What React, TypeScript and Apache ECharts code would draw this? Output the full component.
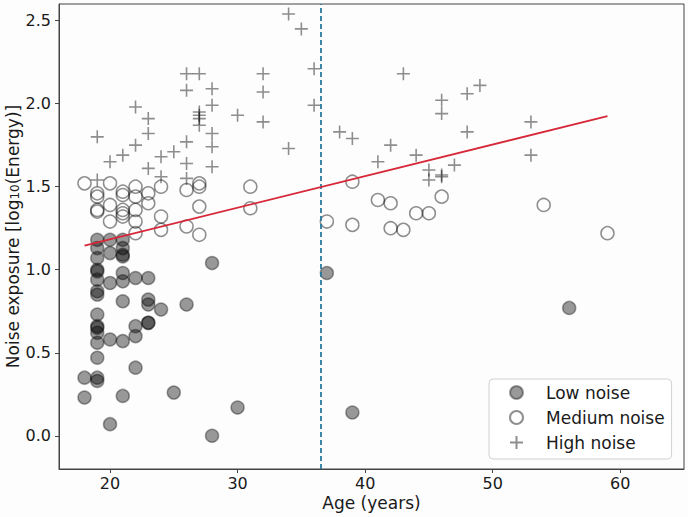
import React, { useEffect, useRef } from 'react';
import * as echarts from 'echarts';

// [age (years), noise exposure log10(Energy)]
const lowNoise: [number, number][] = [
  [18, 0.35], [18, 0.23],
  [19, 1.18], [19, 1.13], [19, 1.07], [19, 1.0], [19, 0.99], [19, 0.94], [19, 0.87], [19, 0.85],
  [19, 0.73], [19, 0.66], [19, 0.65], [19, 0.62], [19, 0.56], [19, 0.47], [19, 0.35], [19, 0.33],
  [20, 1.18], [20, 1.1], [20, 0.92], [20, 0.58], [20, 0.07],
  [21, 1.18], [21, 1.13], [21, 1.09], [21, 1.08], [21, 0.98], [21, 0.93], [21, 0.81], [21, 0.57], [21, 0.24],
  [22, 0.95], [22, 0.66], [22, 0.6], [22, 0.41],
  [23, 0.95], [23, 0.82], [23, 0.79], [23, 0.68], [23, 0.68],
  [24, 0.76], [25, 0.26], [26, 0.79], [28, 1.04], [28, 0.0], [30, 0.17],
  [37, 0.98], [39, 0.14], [56, 0.77],
];

const mediumNoise: [number, number][] = [
  [18, 1.52],
  [19, 1.46], [19, 1.44], [19, 1.36], [19, 1.35],
  [20, 1.52], [20, 1.39], [20, 1.29],
  [21, 1.47], [21, 1.45], [21, 1.36], [21, 1.34], [21, 1.32],
  [22, 1.5], [22, 1.44], [22, 1.36], [22, 1.29], [22, 1.22],
  [23, 1.46], [23, 1.4],
  [24, 1.5], [24, 1.32], [24, 1.24],
  [26, 1.48], [26, 1.26],
  [27, 1.52], [27, 1.5], [27, 1.38], [27, 1.21],
  [31, 1.5], [31, 1.37], [37, 1.29], [39, 1.53], [39, 1.27],
  [41, 1.42], [42, 1.4], [42, 1.25], [43, 1.24], [44, 1.34], [45, 1.34], [46, 1.44],
  [54, 1.39], [59, 1.22],
];

const highNoise: [number, number][] = [
  [19, 1.8], [19, 1.54], [20, 1.65], [21, 1.69],
  [22, 1.98], [22, 1.75],
  [23, 1.91], [23, 1.82], [23, 1.61],
  [24, 1.68], [24, 1.56], [25, 1.71],
  [26, 2.18], [26, 2.08], [26, 1.77], [26, 1.64], [26, 1.55],
  [27, 2.18], [27, 1.95], [27, 1.93], [27, 1.91], [27, 1.87],
  [28, 2.09], [28, 1.99], [28, 1.82], [28, 1.74], [28, 1.62],
  [30, 1.93], [32, 2.18], [32, 2.07], [32, 1.89],
  [34, 2.54], [34, 1.73], [35, 2.45], [36, 2.21], [36, 1.99],
  [38, 1.83], [39, 1.79], [41, 1.65], [42, 1.75], [43, 2.18], [44, 1.69],
  [45, 1.6], [45, 1.54], [46, 2.02], [46, 1.94], [46, 1.57], [46, 1.56],
  [47, 1.63], [48, 2.06], [48, 1.83], [49, 2.11], [53, 1.89], [53, 1.69],
];

const fitLine: [number, number][] = [[18, 1.145], [59, 1.925]];
const cutoffAge = 36.5;

const xTicks = [20, 30, 40, 50, 60];
const yTicks = [0, 0.5, 1.0, 1.5, 2.0, 2.5];
const seriesNames = ['Low noise', 'Medium noise', 'High noise'];

const FONT = 'DejaVu Sans';
const PLUS = 'path://M0,6.5H13M6.5,0V13';

export default function App() {
  const ref = useRef<HTMLDivElement>(null);
  useEffect(() => {
    document.body.style.margin = '0';
    const chart = echarts.init(ref.current!, null, { renderer: 'svg' });
    const axisCommon = {
      type: 'value',
      splitLine: { show: false },
      axisLine: { show: true, onZero: false, lineStyle: { color: '#444', width: 1 } },
    };
    chart.setOption({
      animation: false,
      backgroundColor: '#fdfdfd',
      textStyle: { fontFamily: FONT },
      grid: {
        left: 59, right: 4, top: 4, bottom: 48,
        containLabel: false, outerBoundsMode: 'none',
        show: true, borderColor: '#444', borderWidth: 1, backgroundColor: 'transparent',
      },
      xAxis: {
        ...axisCommon,
        min: 16, max: 65,
        axisTick: { show: true, length: 4, customValues: xTicks, lineStyle: { color: '#444' } },
        axisLabel: { customValues: xTicks, fontSize: 16, color: '#1a1a1a', margin: 6, fontFamily: FONT },
        name: 'Age (years)', nameLocation: 'middle', nameGap: 25, nameMoveOverlap: false,
        nameTextStyle: { fontSize: 17, color: '#1a1a1a', fontFamily: FONT },
      },
      yAxis: {
        ...axisCommon,
        min: -0.2, max: 2.6,
        axisTick: { show: true, length: 4, customValues: yTicks, lineStyle: { color: '#444' } },
        axisLabel: {
          customValues: yTicks, fontSize: 16, color: '#1a1a1a', margin: 8, fontFamily: FONT,
          formatter: (v: number) => v.toFixed(1),
        },
        name: '{a|Noise exposure [log}{s|10}{a|(Energy)]}',
        nameLocation: 'middle', nameGap: 34, nameMoveOverlap: false,
        nameTextStyle: {
          fontSize: 17, color: '#1a1a1a', fontFamily: FONT,
          rich: {
            a: { fontSize: 17, color: '#1a1a1a', fontFamily: FONT, padding: [0, 0, 4, 0] },
            s: { fontSize: 12, color: '#1a1a1a', fontFamily: FONT },
          },
        },
      },
      legend: {
        data: seriesNames,
        orient: 'vertical',
        left: 489, top: 379,
        itemWidth: 13, itemHeight: 13, itemGap: 8,
        padding: [5, 7, 8, 20],
        borderColor: '#d0d0d0', borderWidth: 1, borderRadius: 4,
        backgroundColor: 'rgba(255,255,255,0.8)',
        textStyle: { fontSize: 17, color: '#1a1a1a', fontFamily: FONT, padding: [0, 0, 0, 18] },
      },
      series: [
        {
          name: seriesNames[0], type: 'scatter', data: lowNoise, symbolSize: 13, silent: true,
          itemStyle: { color: 'rgba(0,0,0,0.5)', borderColor: 'rgba(0,0,0,0.45)', borderWidth: 1.5 },
        },
        {
          name: seriesNames[1], type: 'scatter', data: mediumNoise, symbolSize: 13, silent: true,
          itemStyle: { color: 'rgba(0,0,0,0)', borderColor: 'rgba(0,0,0,0.55)', borderWidth: 1.5 },
        },
        {
          name: seriesNames[2], type: 'scatter', data: highNoise, symbol: PLUS, symbolSize: 13, silent: true,
          itemStyle: { color: 'rgba(0,0,0,0)', borderColor: 'rgba(0,0,0,0.55)', borderWidth: 1.6 },
        },
        {
          name: 'fit', type: 'line', data: fitLine, showSymbol: false, silent: true, z: 5,
          lineStyle: { color: '#d62839', width: 1.8 },
          markLine: {
            silent: true, symbol: ['none', 'none'], label: { show: false },
            lineStyle: { color: '#2b7ba1', type: [5, 3], width: 1.8 },
            data: [{ xAxis: cutoffAge }],
          },
        },
      ],
    });
    return () => chart.dispose();
  }, []);
  return <div ref={ref} style={{ width: 688, height: 517 }} />;
}
